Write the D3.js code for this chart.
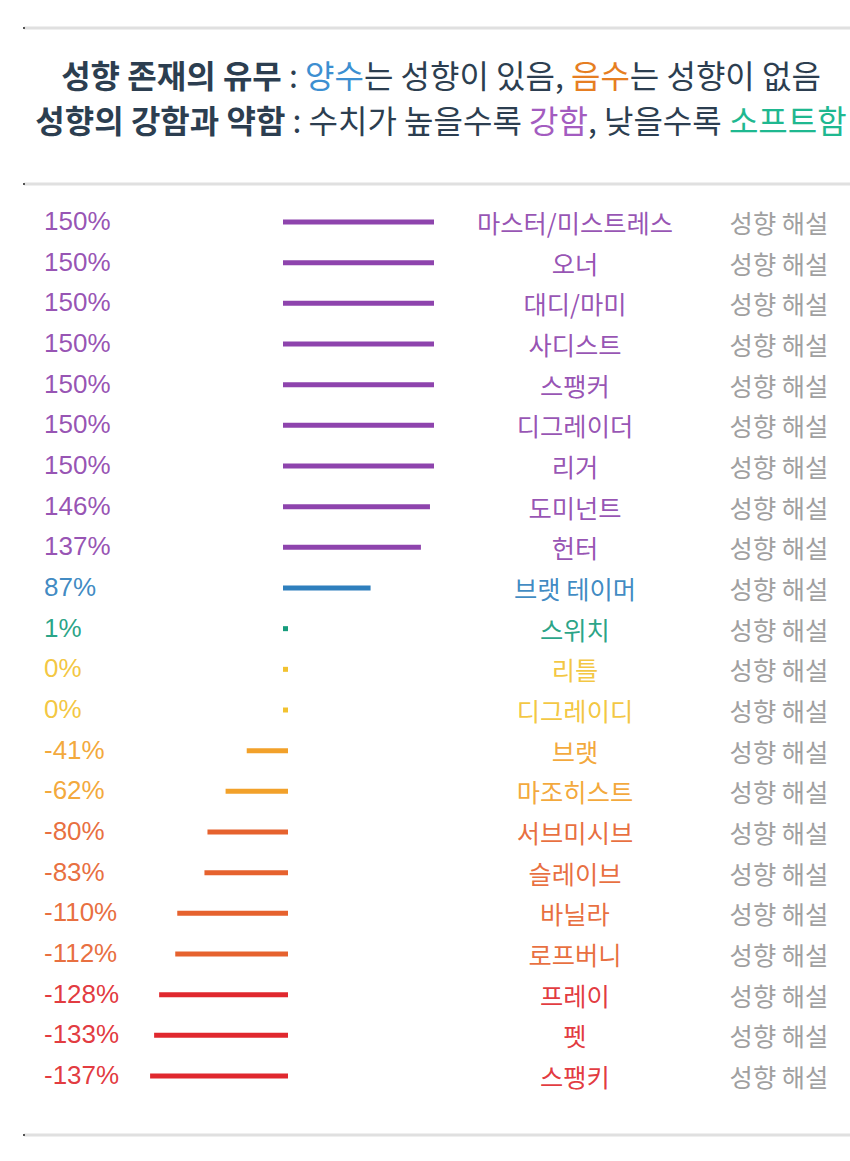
<!DOCTYPE html>
<html>
<head>
<meta charset="utf-8">
<script src="https://cdn.jsdelivr.net/npm/d3@7"></script>
<style>
  html, body { margin: 0; padding: 0; background: #ffffff; }
  svg { display: block; }
</style>
</head>
<body>
<svg id="chart" width="850" height="1161"></svg>
<script>
// ---- data ----
const names = ["마스터/미스트레스", "오너", "대디/마미", "사디스트", "스팽커", "디그레이더", "리거", "도미넌트", "헌터",
  "브랫 테이머", "스위치", "리틀", "디그레이디", "브랫", "마조히스트", "서브미시브", "슬레이브", "바닐라", "로프버니",
  "프레이", "펫", "스팽키"];
const values = [150, 150, 150, 150, 150, 150, 150, 146, 137, 87, 1, 0, 0, -41, -62, -80, -83, -110, -112, -128, -133, -137];
const linkLabel = "성향 해설";
const titleLine1 = [
  { t: "성향 존재의 유무", k: "bold" }, { t: " : ", k: "norm" }, { t: "양수", k: "blue" },
  { t: "는 성향이 있음, ", k: "norm" }, { t: "음수", k: "orange" }, { t: "는 성향이 없음", k: "norm" }
];
const titleLine2 = [
  { t: "성향의 강함과 약함", k: "bold" }, { t: " : 수치가 높을수록 ", k: "norm" }, { t: "강함", k: "purple" },
  { t: ", 낮을수록 ", k: "norm" }, { t: "소프트함", k: "green" }
];
</script>
<script>
const svg = d3.select("#chart");
svg.append("rect").attr("width", 850).attr("height", 1161).attr("fill", "#ffffff");

const KR = "'Noto Sans CJK KR', 'Noto Sans', sans-serif";
const LAT = "'Liberation Sans', Arial, sans-serif";

// rules
[28, 184, 1135].forEach(y => {
  svg.append("line").attr("x1", 24).attr("x2", 850).attr("y1", y).attr("y2", y)
    .attr("stroke", "#e0e0e0").attr("stroke-width", 3);
  svg.append("rect").attr("x", 23).attr("y", y - 1).attr("width", 2).attr("height", 2).attr("fill", "#555");
});

// title
const titleColors = { bold: "#2c3e50", norm: "#2c3e50", blue: "#3d8fd1", orange: "#e67e22", purple: "#a35cc0", green: "#1fb890" };
function titleLine(parts, y) {
  const t = svg.append("text").attr("x", 441).attr("y", y).attr("text-anchor", "middle")
    .attr("font-family", KR).attr("font-size", 32);
  parts.forEach(p => {
    t.append("tspan").text(p.t).attr("fill", titleColors[p.k])
      .attr("font-weight", p.k === "bold" ? 700 : 400);
  });
}
titleLine(titleLine1, 88);
titleLine(titleLine2, 133);

// scales
const y = d3.scalePoint().domain(names).range([222, 1076]);
const len = d3.scaleLinear().domain([0, 150]).range([0, 151]);
const color = d3.scaleThreshold()
  .domain([-120, -70, 0, 1, 50, 100])
  .range(["#e0282e", "#e6622e", "#f2a12a", "#f2c230", "#169c7c", "#2f7fbd", "#8e44ad"]);
const zeroPos = 283, zeroNeg = 288, minLen = 5;

const rows = svg.append("g").selectAll("g").data(names.map((n, i) => ({ name: n, value: values[i] })))
  .join("g").attr("transform", d => `translate(0,${y(d.name)})`);

rows.append("line")
  .attr("x1", d => d.value >= 0 ? zeroPos : zeroNeg - Math.max(len(-d.value), minLen))
  .attr("x2", d => d.value >= 0 ? zeroPos + Math.max(len(d.value), minLen) : zeroNeg)
  .attr("stroke", d => color(d.value)).attr("stroke-width", 5);

rows.append("text").attr("x", 44).attr("y", 8)
  .attr("font-family", LAT).attr("font-size", 26)
  .attr("fill", d => color(d.value)).attr("fill-opacity", 0.92)
  .text(d => d.value + "%");

rows.append("text").attr("x", 575).attr("y", 11).attr("text-anchor", "middle")
  .attr("font-family", KR).attr("font-size", 25.3)
  .attr("fill", d => color(d.value)).attr("fill-opacity", 0.92)
  .text(d => d.name);

rows.append("text").attr("x", 779).attr("y", 11).attr("text-anchor", "middle")
  .attr("font-family", KR).attr("font-size", 25.3)
  .attr("fill", "#a0a0a0")
  .text(linkLabel);
</script>
</body>
</html>
